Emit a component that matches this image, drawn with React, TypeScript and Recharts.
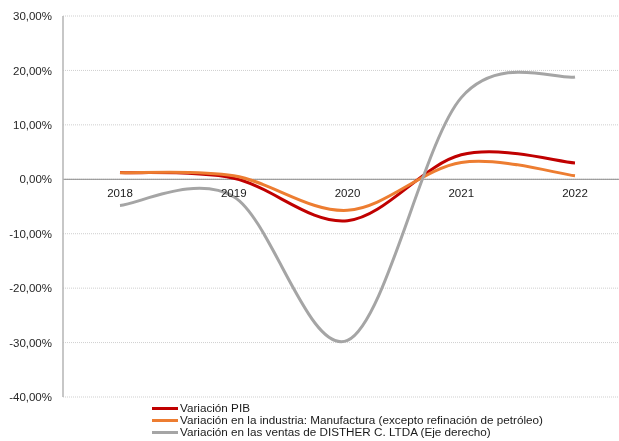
import React from 'react';
import {
  LineChart,
  Line,
  XAxis,
  YAxis,
  CartesianGrid,
  ReferenceLine,
  ReferenceDot,
  Legend,
} from 'recharts';

const years = ['2018', '2019', '2020', '2021', '2022'];
const pib = [1.25, 0.2, -7.6, 4.5, 3.0];
const industria = [1.2, 0.65, -5.7, 3.1, 0.65];
const ventas = [-4.8, -3.2, -29.6, 15.0, 18.8];
const yTicks = [-40, -30, -20, -10, 0, 10, 20, 30];
const seriesNames = [
  'Variación PIB',
  'Variación en la industria: Manufactura (excepto refinación de petróleo)',
  'Variación en las ventas de DISTHER C. LTDA (Eje derecho)',
];
const seriesColors = ['#C00000', '#ED7D31', '#A5A5A5'];

const data = years.map((y, i) => ({
  year: y,
  pib: pib[i],
  industria: industria[i],
  ventas: ventas[i],
}));

const FONT = '"Liberation Sans", Arial, sans-serif';

// Excel-like smoothed line (Catmull-Rom style Bezier segments)
const excelSmooth = (context: any) => {
  let pts: [number, number][] = [];
  return {
    areaStart() {},
    areaEnd() {},
    lineStart() {
      pts = [];
    },
    point(x: number, y: number) {
      pts.push([+x, +y]);
    },
    lineEnd() {
      const n = pts.length;
      if (!n) return;
      context.moveTo(pts[0][0], pts[0][1]);
      if (n === 1) return;
      const k = 1 / 6;
      for (let i = 0; i < n - 1; i++) {
        const p0 = pts[Math.max(i - 1, 0)];
        const p1 = pts[i];
        const p2 = pts[i + 1];
        const p3 = pts[Math.min(i + 2, n - 1)];
        context.bezierCurveTo(
          p1[0] + (p2[0] - p0[0]) * k,
          p1[1] + (p2[1] - p0[1]) * k,
          p2[0] - (p3[0] - p1[0]) * k,
          p2[1] - (p3[1] - p1[1]) * k,
          p2[0],
          p2[1]
        );
      }
    },
  };
};

const fmt = (v: number) => `${v.toFixed(2).replace('.', ',')}%`;

const LegendContent = (props: any) => {
  const payload = props.payload || [];
  return (
    <div style={{ fontFamily: FONT, fontSize: 11.7, color: '#1a1a1a', lineHeight: '12px' }}>
      {payload.map((p: any) => (
        <div
          key={p.value}
          style={{ display: 'flex', alignItems: 'center', height: 12, whiteSpace: 'nowrap' }}
        >
          <span
            style={{
              display: 'inline-block',
              width: 26,
              height: 3,
              background: p.color,
              marginRight: 2,
            }}
          />
          <span>{p.value}</span>
        </div>
      ))}
    </div>
  );
};

export default function App() {
  return (
    <div style={{ position: 'fixed', left: 8, top: 8, width: 611, height: 433 }}>
      <LineChart
        width={611}
        height={433}
        data={data}
        margin={{ top: 8, right: -13, bottom: 44, left: 0 }}
      >
        <CartesianGrid vertical={false} stroke="#cfcfcf" strokeDasharray="1 1" />
        <XAxis dataKey="year" hide padding={{ left: 57, right: 57 }} />
        <YAxis
          domain={[-40, 30]}
          ticks={yTicks}
          interval={0}
          width={55}
          tickFormatter={fmt}
          tickLine={false}
          tickSize={0}
          tickMargin={11}
          axisLine={{ stroke: '#b4b4b4', strokeWidth: 1.5 }}
          tick={{ fontFamily: FONT, fontSize: 11.5, fill: '#262626' }}
        />
        <ReferenceLine y={0} stroke="#8a8a8a" strokeWidth={1} />
        {years.map((y) => (
          <ReferenceDot
            key={y}
            x={y}
            y={0}
            r={0}
            fill="none"
            stroke="none"
            label={{
              value: y,
              position: 'bottom',
              offset: 10,
              fontFamily: FONT,
              fontSize: 11.5,
              fill: '#1a1a1a',
            }}
          />
        ))}
        <Line
          dataKey="pib"
          name={seriesNames[0]}
          type={excelSmooth as any}
          stroke={seriesColors[0]}
          strokeWidth={3}
          dot={false}
          activeDot={false}
          isAnimationActive={false}
        />
        <Line
          dataKey="industria"
          name={seriesNames[1]}
          type={excelSmooth as any}
          stroke={seriesColors[1]}
          strokeWidth={3}
          dot={false}
          activeDot={false}
          isAnimationActive={false}
        />
        <Line
          dataKey="ventas"
          name={seriesNames[2]}
          type={excelSmooth as any}
          stroke={seriesColors[2]}
          strokeWidth={3}
          dot={false}
          activeDot={false}
          isAnimationActive={false}
        />
        <Legend
          layout="vertical"
          align="center"
          verticalAlign="middle"
          content={<LegendContent />}
          wrapperStyle={{ left: 144, top: 394, width: 460, height: 38, overflow: 'visible' }}
        />
      </LineChart>
    </div>
  );
}
